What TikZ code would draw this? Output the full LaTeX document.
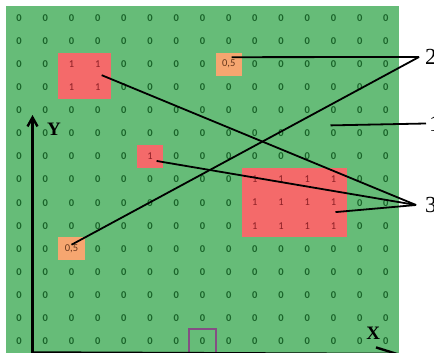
\documentclass[tikz,border=0pt]{standalone}
\usepackage{fontspec}
\setmainfont{Liberation Serif}
\newfontfamily\cellfont{Carlito}
\usetikzlibrary{calc,arrows.meta}

\definecolor{field}{RGB}{102,188,120}
\definecolor{zerotext}{RGB}{26,100,42}
\definecolor{hot}{RGB}{244,106,106}
\definecolor{hottext}{RGB}{140,30,36}
\definecolor{warm}{RGB}{246,166,112}
\definecolor{warmtext}{RGB}{100,52,26}
\definecolor{framecol}{RGB}{132,78,132}

\tikzset{
  cellbox/.style={font=\cellfont\fontsize{10.5}{11}\selectfont, inner sep=0pt,
    minimum width=26.4pt, minimum height=23.3pt},
  zero/.style={text=zerotext, font=\cellfont\fontsize{10.5}{11}\selectfont\bfseries},
  one/.style={fill=hot, text=hottext},
  half/.style={fill=warm, text=warmtext},
  val/.code={\ifcase#1\relax\tikzset{zero}\or\tikzset{one}\or\tikzset{half}\fi},
  lbl/.style={font=\fontsize{23}{23}\selectfont, inner ysep=0pt},
  axlbl/.style={font=\fontsize{19}{19}\selectfont\bfseries, inner sep=0pt},
  lead/.style={line width=1.8pt, black},
  axis/.style={line width=2.4pt, black}
}

\begin{document}
\begin{tikzpicture}[x=1pt,y=-1pt]
  \useasboundingbox (0,0) rectangle (434,353);
  \fill[white] (0,0) rectangle (434,353);
  \fill[field] (6,6.5) rectangle (399,353);

  % cell values: 0 -> 0, 1 -> 1, 2 -> 0,5
  \foreach \row [count=\j from 0] in {
    {0,0,0,0,0,0,0,0,0,0,0,0,0,0,0},
    {0,0,0,0,0,0,0,0,0,0,0,0,0,0,0},
    {0,0,1,1,0,0,0,0,2,0,0,0,0,0,0},
    {0,0,1,1,0,0,0,0,0,0,0,0,0,0,0},
    {0,0,0,0,0,0,0,0,0,0,0,0,0,0,0},
    {0,0,0,0,0,0,0,0,0,0,0,0,0,0,0},
    {0,0,0,0,0,1,0,0,0,0,0,0,0,0,0},
    {0,0,0,0,0,0,0,0,0,1,1,1,1,0,0},
    {0,0,0,0,0,0,0,0,0,1,1,1,1,0,0},
    {0,0,0,0,0,0,0,0,0,1,1,1,1,0,0},
    {0,0,2,0,0,0,0,0,0,0,0,0,0,0,0},
    {0,0,0,0,0,0,0,0,0,0,0,0,0,0,0},
    {0,0,0,0,0,0,0,0,0,0,0,0,0,0,0},
    {0,0,0,0,0,0,0,0,0,0,0,0,0,0,0},
    {0,0,0,0,0,0,0,0,0,0,0,0,0,0,0}}
  {
    \foreach \v [count=\i from 0] in \row
    {
      \pgfmathsetmacro{\x}{19.1+26.2*\i};
      \pgfmathsetmacro{\y}{18.04+23.07*\j};
      \node[cellbox, val=\v] (c-\i-\j) at (\x,\y) {\ifcase\v\relax 0\or 1\or 0,5\fi};
    }
  }

  % marked cell
  \draw[framecol, line width=1.5pt] (c-7-14.south west) rectangle (c-7-14.north east);

  % axes
  \coordinate (o) at (32.5,352.5);
  \coordinate (ytip) at (32.5,115);
  \coordinate (xtip) at (401,354);
  \draw[axis, -{Straight Barb[length=9pt, width=10pt]}] (o) -- (ytip);
  \draw[axis, -{Straight Barb[length=21pt, width=13pt]}] (o) -- (xtip);
  \node[axlbl] (ylbl) at (54,129.5) {Y};
  \node[axlbl] (xlbl) at (373.3,333) {X};

  % labels and leaders
  \node[lbl, anchor=west, inner xsep=6pt] (l2) at (419,57) {2};
  \node[lbl, anchor=west, inner xsep=3pt] (l1) at (426,123.5) {1};
  \node[lbl, anchor=west, inner xsep=9pt] (l3) at (416,205) {3};

  \draw[lead] (l2.west) -- ($(c-8-2)+(3,-7)$);
  \draw[lead] (l2.west) -- ($(c-2-10)+(0,-4)$);
  \draw[lead] (l1.west) -- ($(c-12-5)+(-3,-8)$);
  \draw[lead] (l3.west) -- ($(c-3-2)+(4,11)$);
  \draw[lead] (l3.west) -- ($(c-5-6)+(6.5,4.5)$);
  \draw[lead] (l3.west) -- ($(c-12-8)+(2,9.5)$);
\end{tikzpicture}
\end{document}
